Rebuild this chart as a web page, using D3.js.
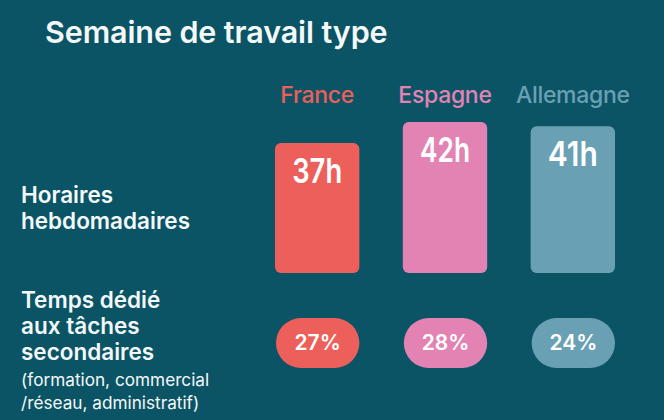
<!DOCTYPE html>
<html><head><meta charset="utf-8">
<script src="https://cdn.jsdelivr.net/npm/d3@7"></script>
<style>
html,body{margin:0;padding:0;background:#0a5466;}
svg{display:block;}
text{font-family:Inter,"Noto Sans",sans-serif;}
</style></head>
<body>
<svg id="chart" width="664" height="420"></svg>
<script>
const countries = ["France", "Espagne", "Allemagne"];
const hours = [37, 42, 41];
const shares = [27, 28, 24];
const colors = ["#ec5f5a", "#e283b4", "#6aa0b3"];
const title = "Semaine de travail type";
const rowLabel1 = ["Horaires", "hebdomadaires"];
const rowLabel2 = ["Temps dédié", "aux tâches", "secondaires"];
const rowNote2 = ["(formation, commercial", "/réseau, administratif)"];

const svg = d3.select("#chart");
svg.append("rect").attr("width",664).attr("height",420).attr("fill","#0a5466");

svg.append("text").attr("x",45).attr("y",43)
  .attr("fill","#f4f8f8").attr("font-size",30.5).attr("font-weight",600)
  .attr("letter-spacing",-0.1).text(title);

const x = d3.scaleBand().domain(countries).range([275,615]).paddingInner(0.34).paddingOuter(0);
const y = d3.scaleLinear().domain([6,42]).range([273,122]);
const color = d3.scaleOrdinal().domain(countries).range(colors);

// country labels
svg.selectAll(".country").data(countries).join("text")
  .attr("x", d => x(d) + x.bandwidth()/2).attr("y", 103)
  .attr("text-anchor","middle").attr("fill", d => color(d))
  .attr("font-size",23).attr("font-weight",500).attr("letter-spacing",-0.3)
  .text(d => d);

// bars
svg.selectAll(".bar").data(countries).join("rect")
  .attr("x", d => x(d)).attr("width", x.bandwidth())
  .attr("y", (d,i) => y(hours[i])).attr("height", (d,i) => y.range()[0] - y(hours[i]))
  .attr("rx",6).attr("fill", d => color(d));

svg.selectAll(".hlab").data(countries).join("text")
  .attr("x", d => x(d) + x.bandwidth()/2).attr("y", (d,i) => y(hours[i]) + 40)
  .attr("text-anchor","middle").attr("fill","#ffffff")
  .attr("font-size",34).attr("font-weight",600)
  .attr("textLength",50).attr("lengthAdjust","spacingAndGlyphs")
  .text((d,i) => hours[i] + "h");

// pills
svg.selectAll(".pill").data(countries).join("rect")
  .attr("x", d => x(d) + 1).attr("width", x.bandwidth() - 1)
  .attr("y",318).attr("height",50).attr("rx",25).attr("fill", d => color(d));

svg.selectAll(".plab").data(countries).join("text")
  .attr("x", d => x(d) + x.bandwidth()/2 + 0.5).attr("y",350)
  .attr("text-anchor","middle").attr("fill","#ffffff")
  .attr("font-size",21).attr("font-weight",600)
  .text((d,i) => shares[i] + "%");

// row labels
const lab = svg.append("g").attr("fill","#f4f8f8");
rowLabel1.forEach((t,i) => lab.append("text").attr("x",21).attr("y",203 + i*26)
  .attr("font-size",22.5).attr("font-weight",600).text(t));
rowLabel2.forEach((t,i) => lab.append("text").attr("x",21).attr("y",308 + i*26)
  .attr("font-size",22.5).attr("font-weight",600).text(t));
rowNote2.forEach((t,i) => lab.append("text").attr("x",21).attr("y",386 + i*23)
  .attr("font-size",17.2).attr("font-weight",400).text(t));
</script>
</body></html>
